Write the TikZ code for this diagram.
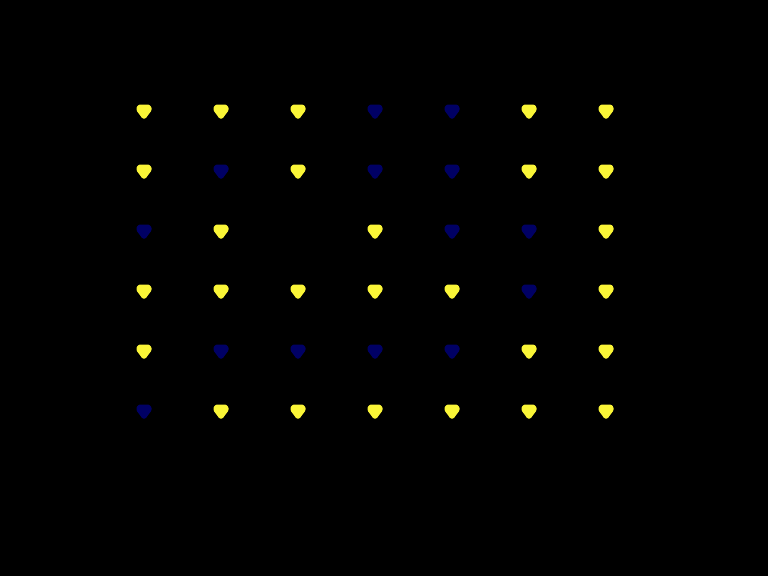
\documentclass[tikz,border=0pt]{standalone}
\usetikzlibrary{positioning}
\definecolor{dotyellow}{RGB}{250,245,55}
\definecolor{dotnavy}{RGB}{0,0,100}
\begin{document}
\begin{tikzpicture}[
    x=1pt,y=-1pt,
    shield/.pic={
        \fill[pic actions,rounded corners=1pt]
            (-5,-6.5) -- (5,-6.5) -- (7.5,-4) -- (7.5,-0.5) -- (3,5.5) -- (1.8,7.5)
            -- (-1.8,7.5) -- (-3,5.5) -- (-7.5,-0.5) -- (-7.5,-4) -- cycle;
    },
    lit/.style={fill=dotyellow},
    dim/.style={fill=dotnavy},
    gap/.style={fill=none}
    ]
\fill[black] (0,0) rectangle (768,576);
\foreach \row [count=\ri] in {
    {lit,lit,lit,dim,dim,lit,lit},
    {lit,dim,lit,dim,dim,lit,lit},
    {dim,lit,gap,lit,dim,dim,lit},
    {lit,lit,lit,lit,lit,dim,lit},
    {lit,dim,dim,dim,dim,lit,lit},
    {dim,lit,lit,lit,lit,lit,lit}}
{\foreach \v [count=\ci] in \row
    \pic[\v] (dot-\ri-\ci) at ({144+77*(\ci-1)},{111+60*(\ri-1)}) {shield};
}
\end{tikzpicture}
\end{document}
